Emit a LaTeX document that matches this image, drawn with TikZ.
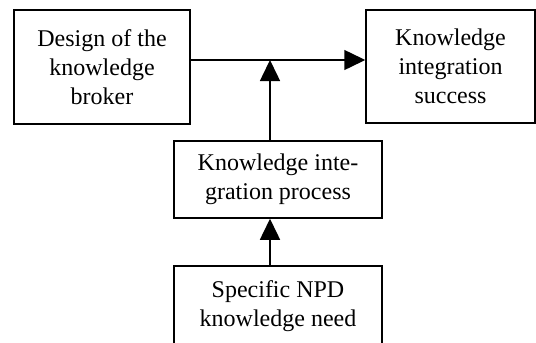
\documentclass[tikz,border=0pt]{standalone}
\usepackage{fontspec}
\setmainfont{Liberation Serif}
\usetikzlibrary{arrows.meta}
\begin{document}
\begin{tikzpicture}[x=1pt,y=-1pt,
  box/.style={draw,line width=1.5pt,rectangle,inner sep=0pt,align=center,
    font=\fontsize{24}{29}\selectfont},
  arr/.style={line width=1.5pt,-{Triangle[length=21pt,width=20pt]}}]
\useasboundingbox (0,0) rectangle (536,343);
\node[box,minimum width=176pt,minimum height=114pt] (A) at (102,67) {Design of the\\knowledge\\broker};
\node[box,minimum width=169pt,minimum height=113pt] (B) at (450.5,66.5) {Knowledge\\integration\\success};
\node[box,minimum width=208pt,minimum height=77pt] (C) at (278,179.5) {Knowledge inte-\\gration process};
\node[box,minimum width=208pt,minimum height=80pt] (D) at (278,306) {Specific NPD\\knowledge need};
\coordinate (h) at (0,60);
\coordinate (v) at (270,0);
\draw[arr] (A.east |- h) -- (B.west |- h);
\draw[arr] (v |- C.north) -- (v |- h);
\draw[arr] (v |- D.north) -- (v |- C.south);
\end{tikzpicture}
\end{document}
